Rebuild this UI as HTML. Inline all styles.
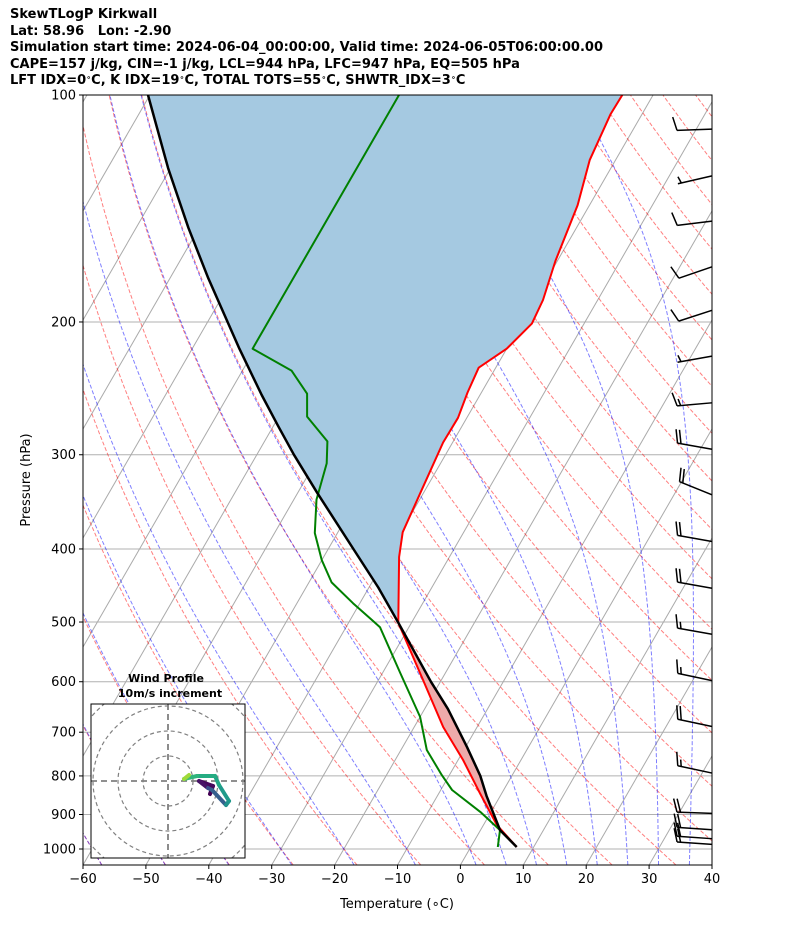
<!DOCTYPE html>
<html><head><meta charset="utf-8"><style>
html,body{margin:0;padding:0;background:#fff;}
body{width:794px;height:937px;overflow:hidden;position:relative;font-family:"DejaVu Sans","Liberation Sans",sans-serif;}
.title{position:absolute;left:10px;font-weight:bold;font-size:13px;line-height:16.5px;white-space:nowrap;}
.title sup{font-size:8px;line-height:0;vertical-align:4px;}
</style></head><body>
<div class="title" style="top:7px">SkewTLogP Kirkwall<br>Lat: 58.96&nbsp;&nbsp; Lon: -2.90<br>Simulation start time: 2024-06-04_00:00:00, Valid time: 2024-06-05T06:00:00.00<br>CAPE=157 j/kg, CIN=-1 j/kg, LCL=944 hPa, LFC=947 hPa, EQ=505 hPa<br>LFT IDX=0<sup>∘</sup>C, K IDX=19<sup>∘</sup>C, TOTAL TOTS=55<sup>∘</sup>C, SHWTR_IDX=3<sup>∘</sup>C</div>
<svg id="chart" width="794" height="937" style="position:absolute;left:0;top:0" xmlns="http://www.w3.org/2000/svg">
<defs><clipPath id="plotclip"><rect x="83" y="95" width="629" height="770"/></clipPath>
<clipPath id="hodoclip"><rect x="91" y="704" width="154" height="154"/></clipPath></defs>
<g id="bg" clip-path="url(#plotclip)"></g>
<g id="fills" clip-path="url(#plotclip)"></g>
<g id="lines" clip-path="url(#plotclip)"></g>
<g id="barbs"></g>
<g id="axes"></g>
<g id="hodo"></g>
</svg>
<script>
// ---- data ----
const tempP = [994, 929, 843, 762, 689, 597, 501, 410, 380, 337, 289, 268, 248, 230, 217, 201, 187, 166, 140, 122, 106, 100];
const tempC = [7.3, 2.1, -3.5, -9.2, -15.4, -22.9, -32.1, -38.0, -39.7, -40.5, -41.5, -41.4, -42.2, -42.7, -40.0, -38.3, -38.7, -40.3, -41.9, -44.1, -45.0, -44.9];
const dewP = [994, 944, 893, 835, 798, 739, 668, 584, 508, 497, 472, 443, 414, 381, 344, 308, 288, 267, 249, 232, 217, 100];
const dewC = [4.3, 3.1, -1.7, -8.2, -11.2, -15.9, -20.0, -27.2, -34.6, -36.5, -41.1, -46.4, -50.0, -53.6, -56.4, -58.1, -60.0, -65.5, -67.6, -72.2, -80.4, -80.4];
const parcelP = [994, 944, 850, 800, 732, 652, 600, 501, 450, 400, 337, 300, 275, 250, 217, 175, 150, 125, 100];
const parcelC = [7.3, 3.1, -2.2, -5.0, -9.8, -16.3, -21.5, -32.1, -38.5, -46.0, -56.9, -64.1, -69.2, -74.7, -82.5, -93.9, -101.7, -110.4, -120.3];
const barbP = [111, 128, 147, 169, 193, 222, 256, 295, 339, 391, 451, 519, 598, 688, 793, 897, 943, 969, 986];
const barbSpd = [10, 5, 10, 10, 10, 5, 15, 20, 20, 20, 20, 15, 15, 20, 15, 20, 20, 20, 20];
const barbDir = [268, 257, 263, 251, 252, 260, 265, 280, 292, 280, 280, 280, 282, 282, 282, 272, 274, 274, 274];
const hodoU = [16.8, 18, 12.4, 16, 17.6, 23.2, 24.4, 20.4, 18.8, 11.6, 8, 6.4, 8.4];
const hodoV = [-5.2, -2, 0, -2.8, -3.6, -9.6, -8, -1.6, 2, 2, 1.2, 0.8, 2.4];
const xTicks = [-60, -50, -40, -30, -20, -10, 0, 10, 20, 30, 40];
const yTicks = [100, 200, 300, 400, 500, 600, 700, 800, 900, 1000];

// ---- scales ----
const L = 83, R = 712, T0 = 95, B = 865;
function Y(p){ return T0 + (Math.log10(p) - 2) * 754; }
function X(t, p){ return L + (t + 60) * 6.29 + (B - Y(p)) * 0.577; }
const NS = "http://www.w3.org/2000/svg";
function mk(tag, attrs, parent){ const e = document.createElementNS(NS, tag); for (const k in attrs) e.setAttribute(k, attrs[k]); parent.appendChild(e); return e; }
function pathFrom(ps, ts){ let d=""; for(let i=0;i<ps.length;i++){ d += (i?"L":"M") + X(ts[i],ps[i]).toFixed(1) + "," + Y(ps[i]).toFixed(1); } return d; }
const bg = document.getElementById("bg"), fills = document.getElementById("fills"), lines = document.getElementById("lines"), axes = document.getElementById("axes");

for (const p of yTicks) {
  const e = mk("line", {x1:L, x2:R, y1:Y(p), y2:Y(p), stroke:"#b0b0b0", "stroke-width":1}, bg);
  
  
}
for (let t = -200; t <= 40; t += 10) {
  const e = mk("line", {x1:X(t,1050), y1:Y(1050), x2:X(t,100), y2:Y(100), stroke:"#aaaaaa", "stroke-width":1}, bg);
  
  
}
for (let th = -100; th <= 260; th += 10) {
  const ps=[], ts=[];
  for (let p = 1050; p >= 99; p -= 10) { ps.push(p); ts.push((th+273.15)*Math.pow(p/1000,0.2857)-273.15); }
  const e = mk("path", {d:pathFrom(ps,ts), fill:"none", stroke:"rgba(255,0,0,0.5)", "stroke-width":1, "stroke-dasharray":"4,2"}, bg);
  
  
}
function moistDT(p, Tk){
  const Rd=287.04, Cp=1005.7, Lv=2.501e6, eps=0.622;
  const Tc=Tk-273.15; const es=6.112*Math.exp(17.67*Tc/(Tc+243.5)); const rs=eps*es/(p-es);
  return (Rd*Tk + Lv*rs)/(Cp + Lv*Lv*rs*eps/(Rd*Tk*Tk))/p;
}
const moistStarts = [-60,-50,-40,-30,-20,-10,0,5,10,15,20,25,30,35,40,45];
for (const t0 of moistStarts) {
  let ps=[], ts=[];
  let Tk = t0+273.15, p = 1000;
  const down=[]; let Td=Tk, pd=1000;
  while (pd < 1050) { const dp=2; Td += moistDT(pd,Td)*dp; pd += dp; down.push([pd,Td]); }
  down.reverse().forEach(a=>{ps.push(a[0]); ts.push(a[1]-273.15);});
  ps.push(1000); ts.push(t0);
  while (p > 100) { const dp=-2; const k1=moistDT(p,Tk); const k2=moistDT(p+dp/2,Tk+k1*dp/2); Tk += k2*dp; p += dp; ps.push(p); ts.push(Tk-273.15); }
  const e = mk("path", {d:pathFrom(ps,ts), fill:"none", stroke:"rgba(0,0,255,0.5)", "stroke-width":1, "stroke-dasharray":"4,2"}, bg);
  
  
}
function interp(ps, ts, p){
  const lp=Math.log(p);
  for (let i=0;i<ps.length-1;i++){ const a=Math.log(ps[i]), b=Math.log(ps[i+1]); if ((lp<=a&&lp>=b)) { const f=(lp-a)/(b-a); return ts[i]+f*(ts[i+1]-ts[i]); } }
  return lp>Math.log(ps[0])?ts[0]:ts[ts.length-1];
}
(function(){
  const N=600, pTop=100, pBot=994; const samp=[];
  for (let i=0;i<=N;i++){ const p=pBot*Math.pow(pTop/pBot,i/N); samp.push([p, interp(tempP,tempC,p), interp(parcelP,parcelC,p)]); }
  let seg=[], sign=0;
  function flush(){
    if (seg.length>1){
      let d=""; seg.forEach((s,i)=>{ d+=(i?"L":"M")+X(s[1],s[0]).toFixed(1)+","+Y(s[0]).toFixed(1); });
      for (let i=seg.length-1;i>=0;i--) d+="L"+X(seg[i][2],seg[i][0]).toFixed(1)+","+Y(seg[i][0]).toFixed(1);
      const e = mk("path",{d:d+"Z", fill: sign<0 ? "rgb(165,201,225)" : "rgb(238,171,171)", stroke:"none"}, fills);
      
      
    }
  }
  for (const s of samp){ const sg = s[2]<s[1] ? -1 : 1; if (sg!==sign){ const last=seg[seg.length-1]; flush(); seg = last ? [last] : []; sign=sg; } seg.push(s); }
  flush();
})();
let e;
e = mk("path",{d:pathFrom(tempP,tempC), fill:"none", stroke:"red", "stroke-width":2, "stroke-linejoin":"round"}, lines);


e = mk("path",{d:pathFrom(dewP,dewC), fill:"none", stroke:"green", "stroke-width":2, "stroke-linejoin":"round"}, lines);


e = mk("path",{d:pathFrom(parcelP,parcelC), fill:"none", stroke:"black", "stroke-width":2.5, "stroke-linejoin":"round"}, lines);



// wind barbs
const barbsG = document.getElementById("barbs");
barbP.forEach((p,i)=>{
  const bx=712, by=Y(p), Ls=35; const d=barbDir[i]*Math.PI/180;
  const ux=Math.sin(d), uy=-Math.cos(d);
  const tx=bx+Ls*ux, ty=by+Ls*uy;
  const g = mk("g",{stroke:"black","stroke-width":1.5,fill:"none"}, barbsG);
  
  
  mk("line",{x1:bx,y1:by,x2:tx,y2:ty}, g);
  const th=74*Math.PI/180;
  const dirx = ux*Math.cos(th) - uy*Math.sin(th), diry = ux*Math.sin(th) + uy*Math.cos(th);
  let spd=barbSpd[i], pos=0;
  const full=Math.floor(spd/10), half=(spd%10)>=5?1:0;
  for (let k=0;k<full;k++){ const sx=tx-ux*pos*3.5, sy=ty-uy*pos*3.5; mk("line",{x1:sx,y1:sy,x2:sx+dirx*14,y2:sy+diry*14}, g); pos++; }
  if (half){ if (full===0) pos=1; const sx=tx-ux*pos*3.5, sy=ty-uy*pos*3.5; mk("line",{x1:sx,y1:sy,x2:sx+dirx*7,y2:sy+diry*7}, g); }
});

e = mk("rect",{x:L,y:T0,width:R-L,height:B-T0,fill:"none",stroke:"black","stroke-width":1}, axes);


xTicks.forEach(t=>{
  const x=L+(t+60)*6.29;
  mk("line",{x1:x,x2:x,y1:B,y2:B+4,stroke:"black"}, axes);
  const tx = mk("text",{x:x,y:B+18,"text-anchor":"middle","font-size":13,"font-family":"DejaVu Sans, Liberation Sans, sans-serif"}, axes);
  tx.textContent = (t<0?"\u2212"+(-t):t);
  
  
});
yTicks.forEach(p=>{
  const y=Y(p);
  mk("line",{x1:L-4,x2:L,y1:y,y2:y,stroke:"black"}, axes);
  const tx = mk("text",{x:L-7,y:y+4.5,"text-anchor":"end","font-size":13,"font-family":"DejaVu Sans, Liberation Sans, sans-serif"}, axes);
  tx.textContent = p;
  
  
});
e = mk("text",{x:397,y:908,"text-anchor":"middle","font-size":13,"font-family":"DejaVu Sans, Liberation Sans, sans-serif"}, axes);
e.textContent = "Temperature (\u2218C)";


e = mk("text",{x:30,y:480,"text-anchor":"middle","font-size":13,transform:"rotate(-90 30 480)","font-family":"DejaVu Sans, Liberation Sans, sans-serif"}, axes);
e.textContent = "Pressure (hPa)";



// hodograph
const hodo = document.getElementById("hodo");
const hx=168, hy=781, hs=2.5;
e = mk("rect",{x:91,y:704,width:154,height:154,fill:"white",stroke:"none"}, hodo);


const hg = mk("g",{"clip-path":"url(#hodoclip)"}, hodo);
[10,20,30,40].forEach(r=>{ const c=mk("circle",{cx:hx,cy:hy,r:r*hs,fill:"none",stroke:"gray","stroke-width":1.2,"stroke-dasharray":"4,3"}, hg);   });
mk("line",{x1:91,x2:245,y1:hy,y2:hy,stroke:"gray","stroke-width":1.8,"stroke-dasharray":"6,4"}, hg);
mk("line",{x1:hx,x2:hx,y1:704,y2:858,stroke:"gray","stroke-width":1.8,"stroke-dasharray":"6,4"}, hg);
const vir=["#440154","#46085c","#471365","#3b528b","#355f8d","#21918c","#1f9a8a","#21a685","#25ac82","#2fb47c","#44bf70","#a0da39","#fde725"];
for (let i=0;i<hodoU.length-1;i++){
  const s = mk("line",{x1:hx+hodoU[i]*hs,y1:hy-hodoV[i]*hs,x2:hx+hodoU[i+1]*hs,y2:hy-hodoV[i+1]*hs,stroke:vir[i],"stroke-width":4,"stroke-linecap":"round"}, hg);
  
  
}
e = mk("rect",{x:91,y:704,width:154,height:154,fill:"none",stroke:"black","stroke-width":1}, hodo);


e = mk("text",{x:166,y:682,"text-anchor":"middle","font-size":11,"font-weight":"bold","font-family":"DejaVu Sans, Liberation Sans, sans-serif"}, hodo);
e.textContent = "Wind Profile";


e = mk("text",{x:170,y:697,"text-anchor":"middle","font-size":11,"font-weight":"bold","font-family":"DejaVu Sans, Liberation Sans, sans-serif"}, hodo);
e.textContent = "10m/s increment";


</script>
</body></html>
